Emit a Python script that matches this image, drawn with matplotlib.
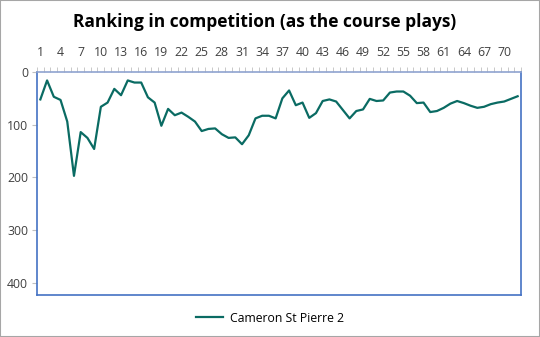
import matplotlib
matplotlib.use("Agg")
import matplotlib.pyplot as plt
from matplotlib.patches import Rectangle
import numpy as np

rounds = list(range(1, 73))
ranking = [52, 16, 47, 53, 94, 197, 114, 125, 146, 66, 58, 32,
           44, 16, 20, 20, 48, 58, 102, 70, 82, 77, 85, 94,
           112, 108, 107, 118, 125, 124, 137, 120, 88, 83, 83, 88,
           50, 35, 63, 58, 87, 78, 55, 52, 56, 72, 88, 74,
           71, 51, 55, 54, 39, 37, 37, 45, 59, 58, 76, 74,
           68, 60, 55, 59, 64, 68, 66, 61, 58, 56, 51, 46]
series_name = "Cameron St Pierre 2"
title = "Ranking in competition (as the course plays)"
xtick_labels = list(range(1, 73, 3))
yticks = [0, 100, 200, 300, 400]

plt.rcParams['font.family'] = ['Open Sans', 'DejaVu Sans']

fig = plt.figure(figsize=(5.4, 3.37), dpi=100)
ax = fig.add_axes([37/540, 1-295/337, (521-37)/540, (295-72)/337])

line, = ax.plot(rounds, ranking, color='#0A6B63', lw=1.6, solid_joinstyle='round')

ax.set_xlim(0.5, 72.5)
ax.set_ylim(423, 0)

ax.xaxis.tick_top()
ax.set_xticks(xtick_labels)
ax.set_xticklabels([str(v) for v in xtick_labels], fontsize=8.8, color='#404040')
ax.set_xticks(np.arange(0.5, 73, 1), minor=True)
ax.tick_params(axis='x', which='major', length=0, pad=9)
ax.tick_params(axis='x', which='minor', length=3.5, width=0.6, color='#BFBFBF', direction='out', top=True, bottom=False)

ax.set_yticks(yticks)
ax.set_yticklabels([str(v) for v in yticks], fontsize=8.8, color='#404040')
ax.tick_params(axis='y', length=3.5, width=0.8, color='#BFBFBF', pad=3)

for side in ['left', 'right', 'bottom']:
    ax.spines[side].set_color('#4472C4')
    ax.spines[side].set_linewidth(1.2)
ax.spines['top'].set_color('#8FA3CF')
ax.spines['top'].set_linewidth(1.2)

fig.text(0.49, 1-22/337, title, ha='center', va='center', fontsize=12.5, fontweight='bold', color='#000000')

fig.legend([line], [series_name], loc='center', bbox_to_anchor=(0.5, 1-318/337),
           frameon=False, fontsize=8.8, handlelength=2.2, handletextpad=0.6)

fig.patches.append(Rectangle((0, 0), 1, 1, transform=fig.transFigure, fill=False,
                             edgecolor='#A6A6A6', lw=1.5, zorder=10))

fig.savefig('out.png', dpi=100)
